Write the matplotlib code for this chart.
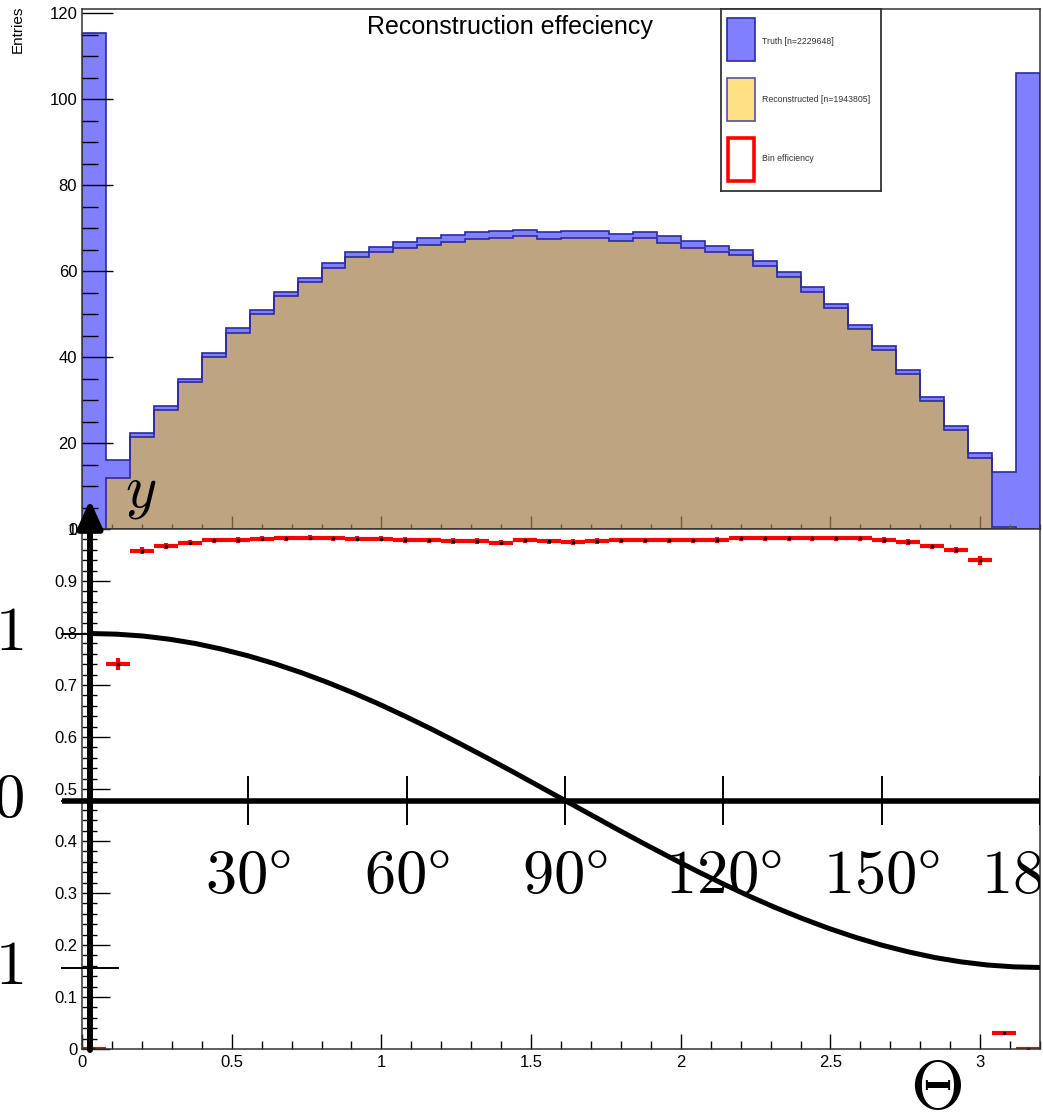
import matplotlib
matplotlib.use("Agg")
import matplotlib.pyplot as plt
import numpy as np
from matplotlib.patches import Rectangle
from matplotlib.ticker import MultipleLocator, FuncFormatter

plt.rcParams['font.family'] = ['Liberation Sans', 'DejaVu Sans']
plt.rcParams['mathtext.fontset'] = 'cm'

W, H = 1043, 1112

# 40 bins of theta between 0 and 3.2
bin_edges = np.linspace(0, 3.2, 41)
truth = [115.3, 16.0, 22.4, 28.7, 35.0, 40.9, 46.7, 51.0, 55.2, 58.5,
         61.9, 64.5, 65.6, 66.8, 67.7, 68.3, 69.1, 69.4, 69.6, 69.2,
         69.4, 69.4, 68.6, 69.1, 68.1, 67.0, 65.8, 65.0, 62.3, 59.7,
         56.2, 52.3, 47.4, 42.6, 37.0, 30.7, 24.0, 17.6, 13.3, 106.0]
reco = [0.0, 11.9, 21.5, 27.8, 34.1, 40.0, 45.7, 50.0, 54.2, 57.5,
        60.8, 63.3, 64.4, 65.4, 66.2, 66.7, 67.5, 67.6, 68.1, 67.5,
        67.7, 67.8, 67.1, 67.6, 66.6, 65.5, 64.4, 63.8, 61.2, 58.6,
        55.2, 51.4, 46.5, 41.7, 36.1, 29.7, 23.0, 16.5, 0.4, 0.0]
eff = [0.0, 0.740, 0.958, 0.968, 0.974, 0.978, 0.979, 0.981, 0.982, 0.983,
       0.982, 0.981, 0.981, 0.979, 0.978, 0.977, 0.977, 0.974, 0.978, 0.976,
       0.975, 0.977, 0.978, 0.978, 0.978, 0.978, 0.979, 0.982, 0.982, 0.982,
       0.982, 0.982, 0.982, 0.979, 0.975, 0.967, 0.960, 0.940, 0.031, 0.0]
eff_err = [0.0, 0.011, 0.007, 0.006, 0.005, 0.005, 0.005, 0.005, 0.005, 0.005,
           0.005, 0.005, 0.005, 0.005, 0.005, 0.005, 0.005, 0.005, 0.005, 0.005,
           0.005, 0.005, 0.005, 0.005, 0.005, 0.005, 0.005, 0.005, 0.005, 0.005,
           0.005, 0.005, 0.005, 0.005, 0.005, 0.005, 0.006, 0.009, 0.004, 0.0]

# overlaid cosine sketch (degrees)
angles = [0, 5, 10, 15, 20, 25, 30, 35, 40, 45, 50, 55, 60, 65, 70, 75, 80, 85, 90,
          95, 100, 105, 110, 115, 120, 125, 130, 135, 140, 145, 150, 155, 160,
          165, 170, 175, 180]
cos_vals = [1.0, 0.996, 0.985, 0.966, 0.940, 0.906, 0.866, 0.819, 0.766, 0.707,
            0.643, 0.574, 0.5, 0.423, 0.342, 0.259, 0.174, 0.087, 0.0,
            -0.087, -0.174, -0.259, -0.342, -0.423, -0.5, -0.574, -0.643,
            -0.707, -0.766, -0.819, -0.866, -0.906, -0.940, -0.966, -0.985,
            -0.996, -1.0]
angle_ticks = [30, 60, 90, 120, 150, 180]
y_ticks = [1, 0, -1]
y_tick_labels = [r'$1$', r'$0$', r'$-1$']

truth_col = '#8080ff'
reco_col = '#bea480'
line_col = '#2a2aa0'
frame_col = '#333333'


def fig_rect(x0, y0, x1, y1):
    return [x0 / W, 1 - y1 / H, (x1 - x0) / W, (y1 - y0) / H]


fmt = FuncFormatter(lambda v, p: '%g' % round(v, 3))

fig = plt.figure(figsize=(W / 100, H / 100), dpi=100)

# ---- top pad: entries
ax1 = fig.add_axes(fig_rect(82, 9, 1040, 529))
ax1.stairs(truth, bin_edges, fill=True, color=truth_col, lw=0)
ax1.stairs(reco, bin_edges, fill=True, color=reco_col, lw=0)
ax1.stairs(truth, bin_edges, color=line_col, lw=1.2)
ax1.stairs(reco, bin_edges, color=line_col, lw=1.2)
ax1.set_xlim(0, 3.2)
ax1.set_ylim(0, 121)
ax1.yaxis.set_major_locator(MultipleLocator(20))
ax1.yaxis.set_minor_locator(MultipleLocator(5))
ax1.xaxis.set_major_locator(MultipleLocator(0.5))
ax1.xaxis.set_minor_locator(MultipleLocator(0.1))
ax1.yaxis.set_major_formatter(fmt)
ax1.tick_params(axis='y', which='major', direction='in', length=22, width=1,
                labelsize=12, pad=3.5)
ax1.tick_params(axis='y', which='minor', direction='in', length=11.5, width=1)
ax1.tick_params(axis='x', which='major', direction='in', length=9.4, width=1,
                color='#6e5e30', labelbottom=False)
ax1.tick_params(axis='x', which='minor', direction='in', length=3.6, width=1,
                color='#6e5e30')
for s in ax1.spines.values():
    s.set_linewidth(1.1)
    s.set_color(frame_col)

# ---- bottom pad: efficiency
ax2 = fig.add_axes(fig_rect(82, 529, 1040, 1049))
centers = 0.5 * (bin_edges[:-1] + bin_edges[1:])
ax2.errorbar(centers, eff, xerr=0.04, yerr=eff_err, fmt='o', ms=1.6,
             mfc='k', mec='k', ecolor='red', elinewidth=3.0, capsize=0)
ax2.set_xlim(0, 3.2)
ax2.set_ylim(0, 1)
ax2.xaxis.set_major_locator(MultipleLocator(0.5))
ax2.xaxis.set_minor_locator(MultipleLocator(0.1))
ax2.yaxis.set_major_locator(MultipleLocator(0.1))
ax2.yaxis.set_minor_locator(MultipleLocator(0.02))
ax2.xaxis.set_major_formatter(fmt)
ax2.yaxis.set_major_formatter(fmt)
ax2.tick_params(axis='y', which='major', direction='in', length=20, width=1,
                labelsize=12, pad=3.5)
ax2.tick_params(axis='y', which='minor', direction='in', length=10.8, width=1)
ax2.tick_params(axis='x', which='major', direction='in', length=10.8, width=1,
                labelsize=12, pad=4)
ax2.tick_params(axis='x', which='minor', direction='in', length=5.8, width=1)
for s in ax2.spines.values():
    s.set_linewidth(1.1)
    s.set_color(frame_col)

# ---- legend box
axL = fig.add_axes(fig_rect(721, 9, 881, 191))
axL.set_xlim(0, 160)
axL.set_ylim(182, 0)
axL.set_xticks([])
axL.set_yticks([])
for s in axL.spines.values():
    s.set_linewidth(1.3)
    s.set_color(frame_col)
axL.add_patch(Rectangle((6, 9), 28, 43, fc=truth_col, ec=line_col, lw=1.2))
axL.add_patch(Rectangle((6, 69), 28, 43, fc='#ffe082', ec='#5050b0', lw=1.2))
axL.add_patch(Rectangle((7, 129), 26, 43, fc='white', ec='red', lw=2.6))
axL.text(41, 32, 'Truth [n=2229648]', fontsize=6.3, va='center', color='#333333')
axL.text(41, 90, 'Reconstructed [n=1943805]', fontsize=6.3, va='center', color='#333333')
axL.text(41, 150, 'Bin efficiency', fontsize=6.3, va='center', color='#333333')

fig.text(510 / W, 1 - 27 / H, 'Reconstruction effeciency', ha='center',
         va='center', fontsize=18)
fig.text(18 / W, 1 - 6 / H, 'Entries', rotation=90, ha='center', va='top',
         fontsize=11)

# ---- overlaid cos sketch, clipped at the right edge
ax3 = fig.add_axes([0, 0, 1040 / W, 1])
ax3.set_xlim(-90 / (950 / 180), 180)
ax3.set_ylim(-(H - 800.5) / 167, 800.5 / 167)
ax3.axis('off')
ax3.patch.set_alpha(0)

ax3.plot([-5.3, 190], [0, 0], lw=4, color='k', solid_capstyle='butt')
ax3.plot(angles, cos_vals, lw=3.6, color='k')
for a in angle_ticks:
    ax3.plot([a, a], [-0.14, 0.14], lw=1.4, color='k')
    ax3.text(a, -0.554, r'$%d\degree$' % a, ha='center', va='baseline',
             fontsize=45, clip_on=True)
for v, lab in zip(y_ticks, y_tick_labels):
    ax3.plot([-5.3, 5.3], [v, v], lw=1.4, color='k')
    ax3.text(-12.6, v, lab, ha='right', va='center', fontsize=45)
ax3.annotate('', xy=(0, 1.80), xytext=(0, -1.494),
             arrowprops=dict(arrowstyle='-|>,head_length=0.85,head_width=0.38',
                             lw=4.3, color='k', mutation_scale=20,
                             shrinkA=0, shrinkB=0))
ax3.text(6.6, 1.763, r'$y$', fontsize=43, ha='left', va='baseline')
ax3.text(160.3, -1.84, r'$\Theta$', fontsize=50, ha='center', va='baseline')

fig.savefig('out.png', dpi=100)
